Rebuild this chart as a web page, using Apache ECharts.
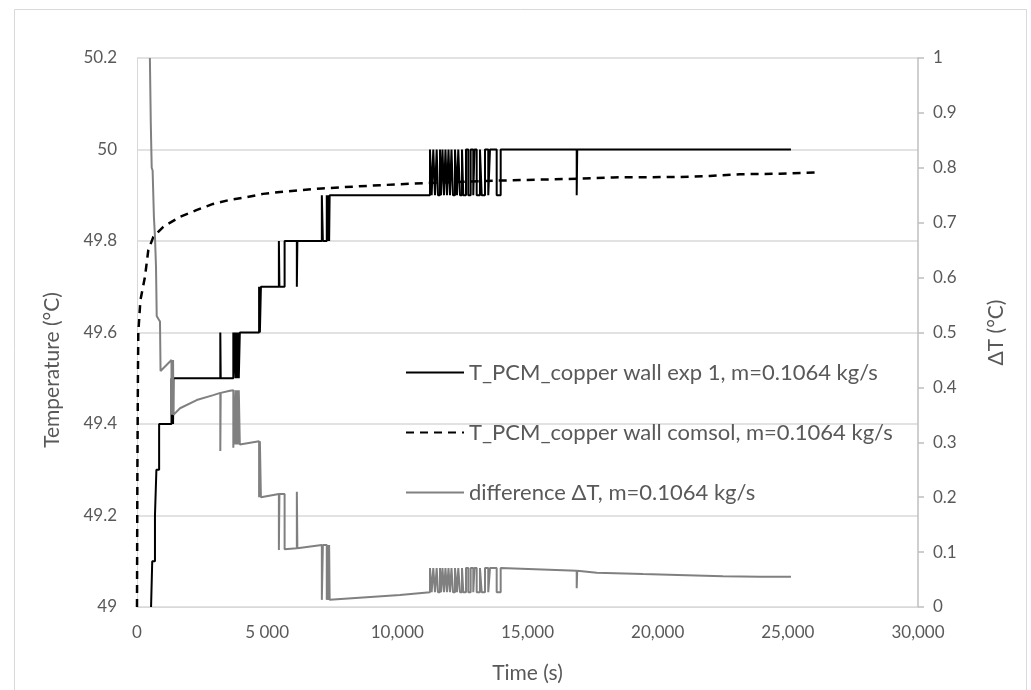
<!DOCTYPE html>
<html>
<head>
<meta charset="utf-8">
<script src="https://cdn.jsdelivr.net/npm/echarts@6/dist/echarts.min.js"></script>
<style>
html,body{margin:0;padding:0;background:#fff;}
#chart{width:1031px;height:690px;}
</style>
</head>
<body>
<div id="chart"></div>
<script>
// ---- tick labels ----
const xTickLabels = ['0', '5 000', '10,000', '15,000', '20,000', '25,000', '30,000'];
const leftTickLabels = ['49', '49.2', '49.4', '49.6', '49.8', '50', '50.2'];

// ---- T_PCM_copper wall exp 1 (change points, step) ----
const expTimeA = [540, 585, 690, 745, 850, 1325, 1345, 1365, 1385, 1400, 3200, 3215, 3700, 3712, 3770, 3800, 3830, 3860, 3890, 3910, 3950, 4690, 4720, 4760, 5450, 5470, 5670, 6140, 6160, 7100, 7140, 7290, 7320, 7360, 7380, 7400];
const expTempA = [49.0, 49.1, 49.2, 49.3, 49.4, 49.5, 49.4, 49.5, 49.4, 49.5, 49.6, 49.5, 49.6, 49.5, 49.6, 49.5, 49.6, 49.5, 49.6, 49.5, 49.6, 49.7, 49.6, 49.7, 49.8, 49.7, 49.8, 49.7, 49.8, 49.9, 49.8, 49.9, 49.8, 49.9, 49.8, 49.9];
// oscillation region: exp toggles 49.9 <-> 50.0 at these times
const toggleTimes = [11254, 11319, 11381, 11446, 11511, 11561, 11638, 11677, 11734, 11792, 11849, 11907, 11965, 12022, 12080, 12138, 12215, 12291, 12341, 12407, 12484, 12533, 12637, 12725, 12817, 12917, 12963, 13048, 13174, 13240, 13367, 13493, 13559, 13816, 13970];
const expLow = 49.9, expHigh = 50.0;
const expTimeB = [16890, 16910, 25120];
const expTempB = [49.9, 50.0, 50.0];

// ---- T_PCM_copper wall comsol ----
const comsolTime = [0, 15, 35, 50, 130, 307, 434, 627, 1011, 1652, 2305, 2919, 3572, 4225, 4840, 5493, 7100, 9334, 11254, 13816, 16889, 18283, 20857, 22000, 23161, 24698, 26119];
const comsolTemp = [49.0, 49.3, 49.5, 49.6, 49.67, 49.722, 49.78, 49.809, 49.831, 49.853, 49.868, 49.881, 49.89, 49.896, 49.903, 49.907, 49.915, 49.922, 49.927, 49.932, 49.936, 49.939, 49.94, 49.942, 49.946, 49.947, 49.95];

// ---- difference ΔT ----
const diffTimeA = [495, 530, 565, 600, 650, 690, 730, 757, 818, 883, 905, 1325, 1325, 1345, 1345, 1365, 1365, 1385, 1385, 1400, 1400, 1652, 2293, 2931, 3200, 3200, 3215, 3215, 3572, 3700, 3700, 3712, 3712, 3770, 3770, 3800, 3800, 3830, 3830, 3860, 3860, 3890, 3890, 3910, 3910, 3950, 3950, 4690, 4690, 4720, 4720, 4760, 4760, 5450, 5450, 5470, 5470, 5670, 5670, 6140, 6140, 6160, 6160, 7100, 7100, 7140, 7140, 7290, 7290, 7320, 7320, 7360, 7360, 7380, 7380, 7400, 7400, 10100];
const diffValA = [1.0, 0.88, 0.80, 0.795, 0.71, 0.675, 0.62, 0.53, 0.525, 0.52, 0.43, 0.45, 0.35, 0.35, 0.45, 0.45, 0.35, 0.35, 0.45, 0.45, 0.35, 0.362, 0.377, 0.386, 0.39, 0.284, 0.284, 0.39, 0.394, 0.395, 0.29, 0.29, 0.395, 0.395, 0.296, 0.296, 0.395, 0.395, 0.296, 0.296, 0.395, 0.395, 0.296, 0.296, 0.395, 0.395, 0.296, 0.302, 0.2, 0.2, 0.302, 0.302, 0.2, 0.206, 0.104, 0.104, 0.206, 0.206, 0.105, 0.107, 0.21, 0.21, 0.107, 0.113, 0.013, 0.013, 0.113, 0.113, 0.013, 0.013, 0.113, 0.113, 0.013, 0.013, 0.113, 0.113, 0.013, 0.022];
const diffLow = 0.027, diffHigh = 0.071;
const diffTimeB = [13970, 16890, 16890, 16910, 16910, 17660, 19435, 21114, 22508, 23929, 25120];
const diffValB = [0.069, 0.066, 0.034, 0.034, 0.066, 0.0625, 0.060, 0.058, 0.056, 0.055, 0.055];

const seriesNames = [
  'T_PCM_copper wall exp 1, m=0.1064 kg/s',
  'T_PCM_copper wall comsol, m=0.1064 kg/s',
  'difference \u0394T, m=0.1064 kg/s'
];

// ---- build series data ----
const expData = expTimeA.map((t, i) => [t, expTempA[i]]);
toggleTimes.forEach((t, i) => expData.push([t, i % 2 === 0 ? expHigh : expLow]));
expTimeB.forEach((t, i) => expData.push([t, expTempB[i]]));

const comsolData = comsolTime.map((t, i) => [t, comsolTemp[i]]);

const diffData = diffTimeA.map((t, i) => [t, diffValA[i]]);
toggleTimes.forEach((t, i) => {
  const up = i % 2 === 0; // exp goes up -> diff goes up
  diffData.push([t, up ? diffLow : diffHigh]);
  diffData.push([t, up ? diffHigh : diffLow]);
});
diffTimeB.forEach((t, i) => diffData.push([t, diffValB[i]]));

const FONT = 'Lato';
const GREY = '#595959';

const chart = echarts.init(document.getElementById('chart'), null, {renderer: 'canvas'});
chart.setOption({
  animation: false,
  backgroundColor: '#fff',
  textStyle: {fontFamily: FONT},
  grid: {left: 137, right: 113, top: 58, bottom: 83, containLabel: false},
  legend: {
    orient: 'vertical',
    left: 400,
    top: 356,
    itemWidth: 58,
    itemHeight: 14,
    itemGap: 37,
    selectedMode: false,
    itemStyle: {opacity: 0},
    textStyle: {fontFamily: FONT, fontSize: 22, color: GREY, lineHeight: 23},
    data: seriesNames
  },
  xAxis: {
    type: 'value',
    min: 0, max: 30000, interval: 5000,
    name: 'Time (s)',
    nameLocation: 'middle',
    nameGap: 56,
    nameTextStyle: {fontFamily: FONT, fontSize: 21, color: GREY},
    axisLine: {show: true, lineStyle: {color: '#d9d9d9', width: 1}},
    axisTick: {show: false},
    splitLine: {show: false},
    axisLabel: {
      margin: 17, fontSize: 17, color: GREY, fontFamily: FONT,
      formatter: v => xTickLabels[Math.round(v / 5000)]
    }
  },
  yAxis: [
    {
      type: 'value',
      min: 49, max: 50.2, interval: 0.2,
      axisLine: {show: true, lineStyle: {color: '#d9d9d9', width: 1}},
      axisTick: {show: false},
      splitLine: {show: true, lineStyle: {color: '#d9d9d9', width: 1.5}},
      axisLabel: {
        margin: 20, fontSize: 17, color: GREY, fontFamily: FONT,
        formatter: v => leftTickLabels[Math.round((v - 49) / 0.2)]
      }
    },
    {
      type: 'value',
      min: 0, max: 1, interval: 0.1,
      position: 'right',
      name: '\u0394T (\u00b0C)',
      nameLocation: 'middle',
      nameGap: 68,
      nameTextStyle: {fontFamily: FONT, fontSize: 21, color: GREY},
      axisLine: {show: true, lineStyle: {color: '#bfbfbf', width: 1.5}},
      axisTick: {show: true, length: 6, lineStyle: {color: '#bfbfbf', width: 1.5}},
      splitLine: {show: false},
      axisLabel: {margin: 15, fontSize: 17, color: GREY, fontFamily: FONT}
    }
  ],
  series: [
    {
      name: seriesNames[0],
      type: 'line',
      yAxisIndex: 0,
      step: 'end',
      symbol: 'none',
      data: expData,
      lineStyle: {color: '#000', width: 2},
      itemStyle: {color: '#000'},
      z: 3
    },
    {
      name: seriesNames[1],
      type: 'line',
      yAxisIndex: 0,
      smooth: false,
      symbol: 'none',
      data: comsolData,
      lineStyle: {color: '#000', width: 2.5, type: [8, 6]},
      itemStyle: {color: '#000'},
      z: 4
    },
    {
      name: seriesNames[2],
      type: 'line',
      yAxisIndex: 1,
      symbol: 'none',
      data: diffData,
      lineStyle: {color: '#808080', width: 2},
      itemStyle: {color: '#808080'},
      z: 5
    }
  ],
  graphic: [
    {
      type: 'rect',
      silent: true,
      shape: {x: 14.5, y: 9.5, width: 1012, height: 700},
      style: {fill: 'none', stroke: '#d9d9d9', lineWidth: 1}
    },
    {
      type: 'text',
      silent: true,
      x: 52, y: 370,
      rotation: Math.PI / 2,
      style: {
        text: 'Temperature (\u00b0C)',
        fontFamily: FONT, fontSize: 21, fill: GREY,
        textAlign: 'center', textVerticalAlign: 'middle'
      }
    }
  ]
});
</script>
</body>
</html>
